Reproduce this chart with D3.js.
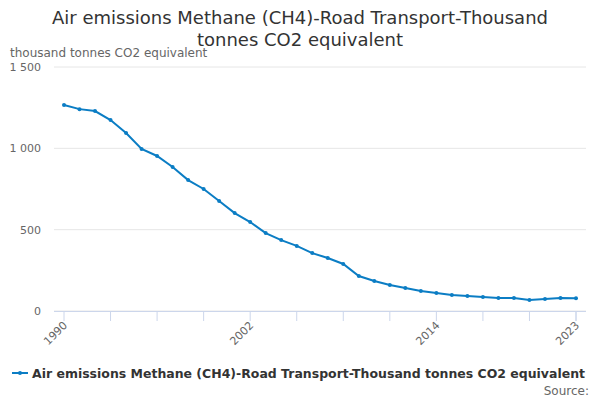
<!DOCTYPE html>
<html lang="en">
<head>
<meta charset="UTF-8" />
<script src="https://d3js.org/d3.v7.min.js"></script>
<style>
  body { margin: 0; background: #fff; font-family: "DejaVu Sans", sans-serif; }
</style>
</head>
<body>
<script>
  const years = d3.range(1990, 2024);
  const values = [1266, 1241, 1229, 1174, 1094, 996, 953, 885, 805, 750, 676, 602, 547, 479, 436, 400,
                  356, 326, 289, 215, 184, 160, 141, 123, 111, 98, 92, 86, 80, 80, 68, 74, 80, 78];
  const yTicks = [0, 500, 1000, 1500];
  const xLabels = [1990, 2002, 2014, 2023];
  const seriesName = "Air emissions Methane (CH4)-Road Transport-Thousand tonnes CO2 equivalent";

  const W = 600, H = 400;
  const svg = d3.select("body").append("svg").attr("width", W).attr("height", H);

  // title
  svg.append("text").attr("x", 300).attr("y", 24).attr("text-anchor", "middle")
    .style("font-size", "18px").attr("fill", "#333").text("Air emissions Methane (CH4)-Road Transport-Thousand");
  svg.append("text").attr("x", 300).attr("y", 46).attr("text-anchor", "middle")
    .style("font-size", "18px").attr("fill", "#333").text("tonnes CO2 equivalent");
  svg.append("text").attr("x", 10).attr("y", 57)
    .style("font-size", "12px").attr("fill", "#666").text("thousand tonnes CO2 equivalent");

  const x = d3.scaleLinear().domain([1990, 2023]).range([64, 576]);
  const y = d3.scaleLinear().domain([0, 1500]).range([311, 67]);

  // gridlines
  svg.append("g").selectAll("line").data(yTicks).enter().append("line")
    .attr("x1", 54).attr("x2", 586).attr("y1", d => y(d)).attr("y2", d => y(d))
    .attr("stroke", "#e6e6e6");
  svg.append("g").selectAll("text").data(yTicks).enter().append("text")
    .attr("x", 41).attr("y", d => y(d) + 4).attr("text-anchor", "end")
    .style("font-size", "11px").attr("fill", "#666")
    .text(d => d3.format(",")(d).replace(",", " "));

  // x axis
  svg.append("line").attr("x1", 54).attr("x2", 586).attr("y1", 311.5).attr("y2", 311.5).attr("stroke", "#ccd6eb");
  svg.append("g").selectAll("line").data(d3.range(1990, 2024, 3).concat([2023])).enter().append("line")
    .attr("x1", d => x(d)).attr("x2", d => x(d)).attr("y1", 311).attr("y2", 321).attr("stroke", "#ccd6eb");
  svg.append("g").selectAll("text").data(xLabels).enter().append("text")
    .attr("transform", d => `translate(${x(d) + 4},${326}) rotate(-45)`)
    .attr("text-anchor", "end").style("font-size", "11px").attr("fill", "#666").text(d => d);

  // line
  const pts = years.map((yr, i) => [yr, values[i]]);
  svg.append("path").datum(pts)
    .attr("d", d3.line().x(d => x(d[0])).y(d => y(d[1])))
    .attr("fill", "none").attr("stroke", "#0b7dc4").attr("stroke-width", 2);
  svg.append("g").selectAll("circle").data(pts).enter().append("circle")
    .attr("cx", d => x(d[0])).attr("cy", d => y(d[1])).attr("r", 2).attr("fill", "#0b7dc4");

  // legend
  svg.append("line").attr("x1", 12).attr("x2", 28).attr("y1", 373).attr("y2", 373)
    .attr("stroke", "#0b7dc4").attr("stroke-width", 2);
  svg.append("circle").attr("cx", 20).attr("cy", 373).attr("r", 2).attr("fill", "#0b7dc4");
  svg.append("text").attr("x", 32).attr("y", 378).style("font-size", "13px").style("font-weight", "bold")
    .attr("textLength", 553).attr("lengthAdjust", "spacingAndGlyphs")
    .attr("fill", "#333").text(seriesName);
  svg.append("text").attr("x", 589).attr("y", 395).attr("text-anchor", "end")
    .style("font-size", "12px").attr("fill", "#666").text("Source:");
</script>
</body>
</html>
